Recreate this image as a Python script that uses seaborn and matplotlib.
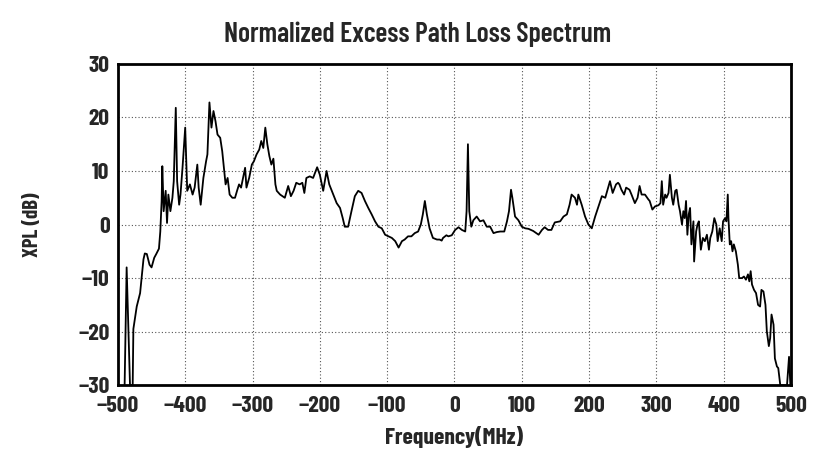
import pandas as pd
import matplotlib
matplotlib.use("Agg")
import matplotlib.pyplot as plt
from matplotlib.ticker import MultipleLocator
import seaborn as sns

# values (MHz, dB)
freq = [
    -490, -487, -482, -478, -477, -472, -467, -462, -460, -457, -453, -450,
    -446, -443, -439, -437, -435, -434, -432, -429, -427, -425, -422, -419,
    -417, -414, -412, -409, -407, -404, -400, -397, -393, -389, -386, -382,
    -380, -377, -373, -369, -367, -364, -361, -358, -355, -352, -348, -345,
    -342, -340, -337, -334, -330, -326, -323, -320, -317, -314, -311, -309,
    -305, -301, -298, -294, -290, -287, -284, -281, -278, -275, -272, -269,
    -266, -264, -259, -252, -247, -243, -239, -235, -230, -226, -223, -220,
    -215, -210, -204, -200, -195, -190, -186, -180, -175, -170, -166, -163,
    -158, -153, -148, -143, -138, -133, -128, -123, -118, -113, -108, -103,
    -98, -93, -88, -83, -78, -74, -69, -64, -59, -54, -50, -47,
    -44, -41, -37, -32, -26, -22, -19, -17, -14, -12, -9, -4,
    1, 6, 11, 16, 18, 20, 22, 25, 28, 33, 38, 43,
    48, 53, 58, 63, 68, 74, 78, 81, 84, 86, 90, 95,
    100, 105, 110, 117, 125, 130, 134, 139, 144, 149, 157, 162,
    167, 171, 174, 179, 182, 184, 189, 194, 199, 204, 209, 214,
    219, 224, 227, 231, 235, 240, 243, 245, 248, 252, 255, 260,
    263, 268, 272, 275, 278, 283, 288, 290, 294, 298, 303, 306,
    308, 310, 313, 315, 318, 320, 323, 325, 328, 330, 333, 335,
    338, 340, 342, 344, 346, 348, 350, 352, 355, 356, 359, 361,
    363, 366, 369, 372, 375, 378, 380, 383, 386, 389, 391, 394,
    397, 399, 402, 404, 406, 407, 409, 411, 413, 415, 418, 421,
    423, 427, 430, 433, 436, 438, 440, 442, 445, 448, 451, 454,
    456, 459, 462, 464, 467, 469, 471, 474, 476, 479, 481, 484,
    494, 497, 499,
]
xpl = [
    -30, -8, -30, -30, -19.5, -15.3, -12.8, -6.5, -5.4, -5.5, -7.5, -8.0,
    -6.2, -5.5, -4.5, -1.3, 4.4, 10.9, 2.5, 6.3, 0.3, 5.6, 2.5, 5.0,
    8.1, 21.8, 8.1, 3.7, 5.6, 10.6, 18.1, 6.3, 7.5, 5.6, 6.9, 11.2,
    6.9, 3.7, 8.7, 11.8, 13.1, 22.8, 18.1, 21.2, 19.3, 16.8, 16.2, 13.7,
    10.0, 7.5, 8.7, 5.6, 5.0, 5.0, 6.3, 7.5, 6.9, 8.7, 10.6, 6.9,
    8.7, 11.2, 11.8, 13.1, 14.0, 15.6, 14.3, 18.1, 15.0, 12.8, 11.2, 12.3,
    7.5, 6.3, 5.6, 5.0, 7.2, 5.3, 6.3, 7.8, 7.5, 7.8, 5.9, 8.7,
    9.0, 8.7, 10.7, 9.3, 6.3, 10.0, 7.5, 5.6, 4.0, 3.1, 1.2, -0.4,
    -0.4, 2.5, 5.3, 6.3, 5.9, 4.4, 3.1, 1.9, 0.6, -0.4, -0.7, -1.9,
    -2.2, -2.5, -3.1, -4.3, -3.1, -2.8, -2.2, -2.2, -1.6, -1.3, 0.0, 1.9,
    4.4, 1.9, -0.7, -2.5, -2.8, -2.8, -3.0, -2.5, -2.2, -2.0, -2.2, -2.0,
    -1.0, -0.5, -1.0, -1.3, 2.5, 15.0, 2.5, -0.4, 0.8, 1.5, 0.6, 0.8,
    -0.4, -0.4, -1.6, -1.4, -1.3, -1.3, 0.6, 2.5, 6.5, 5.0, 1.5, 0.8,
    -0.4, -0.7, -0.8, -1.2, -1.9, -1.0, -0.5, -1.0, -1.0, 0.4, 0.6, 1.5,
    1.9, 3.7, 5.6, 5.0, 3.7, 5.6, 3.7, 1.5, 0.0, -0.7, 1.5, 3.4,
    5.3, 5.0, 6.3, 8.1, 5.9, 7.5, 7.8, 7.5, 6.5, 5.6, 6.9, 6.5,
    5.6, 4.0, 5.0, 7.2, 5.6, 5.6, 4.7, 4.4, 2.8, 3.4, 3.6, 4.0,
    8.1, 3.7, 5.6, 5.0, 5.9, 9.3, 5.0, 3.7, 6.3, 6.5, 3.7, 2.5,
    0.0, 2.5, 1.2, 4.4, -1.9, 1.9, 3.1, -3.7, 0.6, -6.9, -1.3, 0.0,
    0.6, -4.7, -2.5, -3.1, -1.9, -4.7, -2.5, -1.3, 1.2, 0.0, -3.1, -0.7,
    -3.1, 0.6, 1.2, 0.6, 5.6, 1.2, -3.7, -3.1, -5.0, -3.7, -5.0, -7.5,
    -10.0, -10.0, -9.7, -10.3, -9.3, -10.6, -8.7, -11.2, -12.2, -12.8, -15.0, -15.3,
    -12.2, -12.5, -15.0, -19.9, -22.7, -21.2, -16.8, -18.7, -25.0, -26.5, -26.8, -30.0,
    -30.0, -24.7, -30.0,
]

x_ticks = list(range(-500, 501, 100))
y_ticks = list(range(-30, 31, 10))

df = pd.DataFrame({"Frequency": freq, "XPL": xpl})

sns.set_style("white")
# narrow face like the original Helvetica Narrow, with fallbacks
plt.rcParams["font.family"] = ["Barlow Condensed", "Liberation Sans", "DejaVu Sans"]

fig = plt.figure(figsize=(8.13, 4.63), dpi=100)
ax = fig.add_axes([0.145, 0.168, 0.828, 0.694])

sns.lineplot(data=df, x="Frequency", y="XPL", ax=ax, color="black",
             linewidth=1.3, estimator=None, sort=False)

ax.set_xlim(-500, 500)
ax.set_ylim(-30, 30)
ax.set_xticks(x_ticks)
ax.set_yticks(y_ticks)
ax.xaxis.set_minor_locator(MultipleLocator(10))
ax.yaxis.set_minor_locator(MultipleLocator(2))
ax.tick_params(which="major", direction="in", length=7, width=1.2, labelsize=17)
ax.tick_params(axis="x", which="major", pad=8)
ax.tick_params(axis="y", which="major", pad=6)
ax.tick_params(which="minor", direction="in", length=4, width=1.0)
for lab in ax.get_xticklabels() + ax.get_yticklabels():
    lab.set_fontweight("bold")

ax.grid(True, which="major", linestyle=(0, (1, 2)), color="#555555", linewidth=0.8)
for s in ax.spines.values():
    s.set_visible(True)
    s.set_color("black")
    s.set_linewidth(2)

ax.set_xlabel("Frequency(MHz)", fontsize=17, fontweight="bold", labelpad=7)
ax.set_ylabel("XPL (dB)", fontsize=15, fontweight="bold", labelpad=26)
fig.text(0.514, 0.925, "Normalized Excess Path Loss Spectrum", ha="center",
         va="center", fontsize=20, fontweight="semibold")

fig.savefig("out.png", dpi=100)
